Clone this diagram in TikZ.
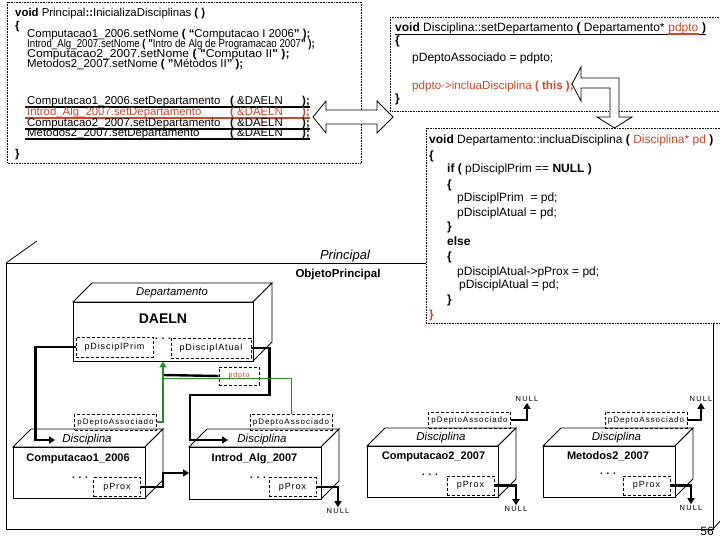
\documentclass[tikz,border=0pt]{standalone}
\usepackage{fontspec}
\setmainfont{Liberation Sans}
\newfontfamily\spcA[LetterSpace=10]{Liberation Sans}
\newfontfamily\spcB[LetterSpace=12]{Liberation Sans}
\newfontfamily\spcC[LetterSpace=15]{Liberation Sans}
\newfontfamily\narrowA[FakeStretch=0.85]{Liberation Sans}
\newfontfamily\wideA[FakeStretch=1.07]{Liberation Sans}
\usetikzlibrary{arrows.meta}
\definecolor{codered}{RGB}{205,70,40}
\definecolor{grn}{RGB}{40,140,40}
% 3D box: name, x1, y1, x2, y2, depth
\newcommand\tdbox[6]{%
  \draw[fill=white, line width=0.8pt] (#2,#3) -- ++(#6,-#6) -- ({#4+#6},{#3-#6}) -- (#4,#3) -- cycle;
  \draw[fill=white, line width=0.8pt] (#4,#3) -- ({#4+#6},{#3-#6}) -- ({#4+#6},{#5-#6}) -- (#4,#5) -- cycle;
  \node[draw, line width=0.8pt, fill=white, inner sep=0pt,
        minimum width={(#4-#2)*1pt}, minimum height={(#5-#3)*1pt}]
        (#1) at ({(#2+#4)/2},{(#3+#5)/2}) {};
}
\tikzset{
  dotbox/.style={draw, dash pattern=on 0.7pt off 0.9pt, line width=0.7pt, fill=white},
  code/.style={anchor=base west, inner sep=0pt, font=\fontsize{11.4}{12}\selectfont},
  codeb/.style={anchor=base west, inner sep=0pt, font=\fontsize{12}{13}\selectfont},
  uline/.style={line width=1.3pt},
  ptr/.style={draw, dash pattern=on 3pt off 2pt, line width=0.8pt, inner sep=0pt,
              font=\spcA\fontsize{9}{10}\selectfont},
  pda/.style={ptr, minimum width=82pt, minimum height=16pt, font=\spcB\fontsize{8}{9}\selectfont},
  pprox/.style={ptr, minimum width=47pt, minimum height=19pt},
  conn/.style={line width=2.4pt, -{Triangle[length=6pt,width=7pt]}},
  nulltxt/.style={inner sep=1pt, font=\spcC\fontsize{7.5}{8}\selectfont},
  disc/.style={inner sep=0pt, font=\itshape\fontsize{11.5}{12}\selectfont},
  objname/.style={inner sep=0pt, font=\bfseries\fontsize{11}{12}\selectfont},
  dots/.style={inner sep=0pt, anchor=base, font=\bfseries\fontsize{10}{12}\selectfont},
  hollow/.style={draw, fill=white, line width=0.8pt, line join=miter},
}
\begin{document}
\begin{tikzpicture}[x=1pt, y=-1pt]
\useasboundingbox (0,0) rectangle (720,540);
\clip (0,0) rectangle (720,540);

% ---------- Principal object (background) ----------
\draw[line width=0.8pt] (6,263) rectangle (713,529);
\draw[line width=0.8pt] (6,263) -- (37,241);
\draw[line width=0.8pt] (713,529) -- (721,520);
\node[inner sep=0pt, font=\itshape\fontsize{13}{14}\selectfont] (princlbl) at (345,256) {Principal};
\node[inner sep=0pt, font=\bfseries\fontsize{11.5}{13}\selectfont] (objprinc) at (338,275) {ObjetoPrincipal};

% ---------- code box 1 ----------
\draw[dotbox] (7,2) rectangle (361,163);
\node[code] (a1) at (15,17) {\textbf{void} Principal\textbf{::}InicializaDisciplinas \textbf{( )}};
\node[code] (a2) at (15,30) {\textbf{\{}};
\node[code] (a3) at (27,38) {Computacao1\_2006.setNome \textbf{( “}Computacao I 2006\textbf{" );}};
\node[code, font=\narrowA\fontsize{11.4}{12}\selectfont] (a4) at (27,48) {Introd\_Alg\_2007.setNome \textbf{( "}Intro de Alg de Programacao 2007\textbf{" );}};
\node[code, font=\wideA\fontsize{11.4}{12}\selectfont] (a5) at (27,58) {Computacao2\_2007.setNome \textbf{( "}Computao II\textbf{" );}};
\node[code] (a6) at (27,68) {Metodos2\_2007.setNome \textbf{( "}Métodos II\textbf{" );}};
\node[code] (r1a) at (27,105) {Computacao1\_2006.setDepartamento};
\node[code] (r1b) at (230,105) {\textbf{(} \&DAELN};
\node[code] (r1c) at (302,105) {\textbf{);}};
\draw[uline] (25,107) -- (310,107);
\node[code, text=codered] (r2a) at (27,116) {Introd\_Alg\_2007.setDepartamento};
\node[code, text=codered] (r2b) at (230,116) {\textbf{(} \&DAELN};
\node[code, text=codered] (r2c) at (302,116) {\textbf{);}};
\draw[uline, codered, line width=1.6pt] (25,118) -- (310,118);
\node[code] (r3a) at (27,127) {Computacao2\_2007.setDepartamento};
\node[code] (r3b) at (230,127) {\textbf{(} \&DAELN};
\node[code] (r3c) at (302,127) {\textbf{);}};
\draw[uline] (25,129) -- (310,129);
\node[code] (r4a) at (27,137) {Metodos2\_2007.setDepartamento};
\node[code] (r4b) at (230,137) {\textbf{(} \&DAELN};
\node[code] (r4c) at (302,137) {\textbf{);}};
\draw[uline] (25,139) -- (310,139);
\node[code] (a7) at (15,158) {\textbf{\}}};

% ---------- code box 2 ----------
\draw[dotbox] (390,17) rectangle (730,111);
\node[codeb] (b1) at (395,32) {\textbf{void} Disciplina::setDepartamento \textbf{(} Departamento*};
\node[codeb, text=codered] (b1p) at ([xshift=3.3pt]b1.base east) {pdpto};
\node[codeb] (b1c) at ([xshift=3.3pt]b1p.base east) {\textbf{)}};
\draw[line width=1.1pt] (b1.base west) ++(0,2.2) -- ([yshift=-2.2pt]b1c.base east);
\draw[line width=1.4pt, codered] ([yshift=-2.2pt]b1p.base west) -- ([yshift=-2.2pt]b1p.base east);
\node[codeb] (b2) at (395,45) {\textbf{\{}};
\node[codeb] (b3) at (412,62) {pDeptoAssociado = pdpto;};
\node[code, text=codered, font=\fontsize{11.6}{12}\selectfont] (b4) at (412,90) {pdpto->incluaDisciplina \textbf{( this );}};
\node[codeb] (b5) at (395,103) {\textbf{\}}};

% ---------- code box 3 ----------
\draw[dotbox] (426,128) rectangle (730,323);
\node[codeb] (c1) at (429,144) {\textbf{void} Departamento::incluaDisciplina \textbf{(} \textcolor{codered}{Disciplina* pd} \textbf{)}};
\node[codeb] (c2) at (429,160) {\textbf{\{}};
\node[codeb] (c3) at (447,173) {\textbf{if (} pDisciplPrim == \textbf{NULL )}};
\node[codeb] (c4) at (447,189) {\textbf{\{}};
\node[codeb] (c5) at (457,202) {pDisciplPrim\ \ = pd;};
\node[codeb] (c6) at (457,216) {pDisciplAtual = pd;};
\node[codeb] (c7) at (447,230) {\textbf{\}}};
\node[codeb] (c8) at (447,245) {\textbf{else}};
\node[codeb] (c9) at (447,260) {\textbf{\{}};
\node[codeb] (c10) at (457,275) {pDisciplAtual->pProx = pd;};
\node[codeb] (c11) at (459,288) {pDisciplAtual = pd;};
\node[codeb] (c12) at (447,303) {\textbf{\}}};
\node[codeb, text=codered] (c13) at (429,318) {\textbf{\}}};

% ---------- hollow block arrows ----------
\draw[hollow] (313,117) -- (326,101) -- (326,110) -- (377,110) -- (377,101) -- (393,117)
  -- (377,133) -- (377,124) -- (326,124) -- (326,133) -- cycle;
\draw[hollow] (572,84) -- (581,67) -- (581,78) -- (619,78) -- (619,117) -- (632,117)
  -- (614.5,128) -- (597,117) -- (610,117) -- (610,88) -- (581,88) -- (581,101) -- cycle;

% ---------- Departamento DAELN ----------
\tdbox{dept}{73}{302}{253}{361}{19}
\node[disc, font=\itshape\fontsize{11.3}{12}\selectfont] (deptlbl) at (172,293) {Departamento};
\node[inner sep=0pt, font=\bfseries\fontsize{14}{16}\selectfont] (daeln) at (163,319) {DAELN};
\node[ptr, minimum width=77pt, minimum height=20pt] (prim) at (114.5,347) {pDisciplPrim};
\node[ptr, minimum width=80pt, minimum height=20pt] (atual) at (211,348) {pDisciplAtual};
\node[dots] (ddots) at (163,339) {. . .};

% ---------- Disciplina objects ----------
\tdbox{d1}{13}{447}{145}{498}{18}
\tdbox{d2}{189}{447}{321}{499}{18}
\tdbox{d3}{367}{446}{498}{497}{18}
\tdbox{d4}{543}{446}{675}{497}{18}

\node[disc] (d1l) at (87,440) {Disciplina};
\node[objname] (d1n) at (78,459) {Computacao1\_2006};
\node[dots] (d1d) at (80,478.5) {. . .};
\node[pda] (pda1) at (115.5,422) {pDeptoAssociado};
\node[pprox] (px1) at (117,487) {pProx};

\node[disc] (d2l) at (262,440) {Disciplina};
\node[objname] (d2n) at (254.5,459) {Introd\_Alg\_2007};
\node[dots] (d2d) at (258,478.5) {. . .};
\node[pda] (pda2) at (291,422) {pDeptoAssociado};
\node[pprox] (px2) at (292.5,487) {pProx};

\node[disc] (d3l) at (441,438) {Disciplina};
\node[objname] (d3n) at (433.5,457) {Computacao2\_2007};
\node[dots] (d3d) at (430,475.5) {. . .};
\node[pda] (pda3) at (469.5,420) {pDeptoAssociado};
\node[pprox] (px3) at (470.5,485.5) {pProx};

\node[disc] (d4l) at (616.5,438) {Disciplina};
\node[objname] (d4n) at (608,456) {Metodos2\_2007};
\node[dots] (d4d) at (608,474.5) {. . .};
\node[pda] (pda4) at (646,420) {pDeptoAssociado};
\node[pprox] (px4) at (646.5,485.5) {pProx};

% pdpto parameter
\node[ptr, minimum width=40pt, minimum height=18pt, text=codered!85!black,
      font=\spcB\fontsize{7}{8}\selectfont] (pdpto) at (239,376) {pdpto};

% NULL labels
\node[nulltxt] (n2) at (338,511) {NULL};
\node[nulltxt] (n3a) at (527,399) {NULL};
\node[nulltxt] (n3b) at (516,509) {NULL};
\node[nulltxt] (n4a) at (701,399) {NULL};
\node[nulltxt] (n4b) at (691,508) {NULL};

% ---------- connectors ----------
\coordinate (t1) at (55,440);
\coordinate (t2) at (228,440);
\coordinate (t3) at (189,473);
\coordinate (gj) at (163,378);
\coordinate (bj) at (163,375);

\draw[conn] (prim.west) -- ++(-40,0) |- (t1);
\draw[conn] (atual.east) -- ++(18,0) |- (190,395) |- (t2);
\draw[line width=2.4pt] (pdpto.west) -- (bj);
\draw[grn, line width=1pt] (pda2.north) |- (gj);
\draw[grn, line width=1.8pt, -{Triangle[length=6pt,width=7pt]}] (pda1.east) -| (dept.south);

\draw[conn] (px1.east) -- ++(22,0) |- (t3);
\draw[conn] (px2.east) -| (n2.north);
\draw[conn] (pda3.east) -| (n3a.south);
\draw[conn] (px3.east) -| (n3b.north);
\draw[conn] (pda4.east) -| (n4a.south);
\draw[conn] (px4.east) -| (n4b.north);

% page number
\node[inner sep=0pt, font=\fontsize{12}{13}\selectfont] (pg) at (707,531) {56};
\end{tikzpicture}
\end{document}
